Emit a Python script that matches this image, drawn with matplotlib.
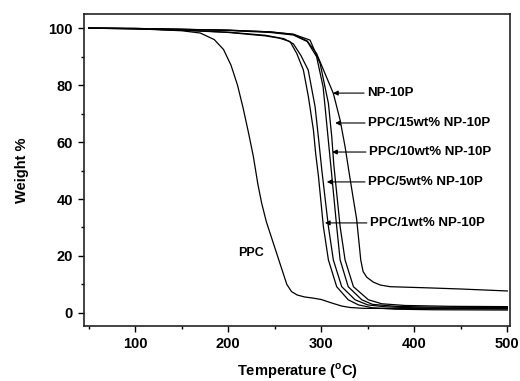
from __future__ import annotations

import matplotlib

matplotlib.use("Agg")
import matplotlib.pyplot as plt

PPC_T = [50, 100, 150, 170, 185, 195, 203, 210, 216, 222, 227, 232, 236, 241, 246, 252,
         258, 263, 268, 274, 282, 291, 300, 312, 322, 331, 345, 400, 500]
PPC_W = [100, 99.8, 99.1, 98.3, 96, 92.5, 87, 80, 72, 63, 55, 45, 38.5, 32, 27, 21,
         15, 10, 7.5, 6.3, 5.6, 5.2, 4.7, 3.4, 2.4, 1.9, 1.6, 1.5, 1.4]

WT1_T = [50, 100, 150, 200, 240, 255, 266.5, 273.7, 280.8, 286.2, 291.6, 294, 297, 302.3,
         307.7, 316.6, 329, 340, 355, 380, 420, 500]
WT1_W = [100, 99.8, 99.3, 98.5, 97.3, 96.5, 95.3, 91.1, 85.3, 75.9, 64.2, 56, 48, 30.3,
         18.6, 9.2, 4.6, 2.8, 1.8, 1.3, 1.1, 1.0]

WT5_T = [50, 100, 150, 200, 240, 260, 270, 278, 286, 293.4, 297.5, 300.6, 307.7, 313,
         322, 336.4, 350, 370, 400, 450, 500]
WT5_W = [100, 99.8, 99.3, 98.6, 97.5, 96.3, 94.5, 90.5, 85.3, 72.4, 60, 50.2, 30.3, 18.6,
         9.2, 4.6, 2.8, 2.1, 1.8, 1.6, 1.5]

WT10_T = [50, 100, 150, 200, 245, 270, 285, 295, 302, 305.5, 309, 312, 316.6, 320.3, 329,
          343.6, 355, 380, 420, 500]
WT10_W = [100, 99.9, 99.6, 99.2, 98.5, 97.6, 95.3, 90, 79.4, 67.7, 56, 46, 30.3, 18.6, 9.2,
          4.6, 3.0, 2.3, 2.0, 1.9]

WT15_T = [50, 100, 150, 200, 245, 270, 288, 298.8, 307.7, 311.3, 313.5, 316, 320.3, 325.6,
          334.6, 350.7, 365, 390, 440, 500]
WT15_W = [100, 99.9, 99.6, 99.3, 98.7, 97.9, 95.8, 87.6, 73.6, 61.9, 52, 44, 30.3, 18.6,
          9.2, 4.6, 3.2, 2.6, 2.3, 2.2]

NP_T = [50, 100, 150, 200, 245, 270, 285, 295, 304, 313, 320.3, 325.6, 329.5, 334, 338,
        340.5, 342.5, 345, 349, 356, 363.3, 374, 414, 449, 500]
NP_W = [100, 99.9, 99.6, 99.3, 98.7, 97.8, 95.5, 91.1, 84.1, 77.1, 67.7, 58.4, 50.2, 41, 33,
        25, 18.5, 14.5, 12.5, 10.8, 9.8, 9.2, 8.8, 8.4, 7.7]

# annotation labels: (text, arrow tip T, tip W, text T)
LABELS = [
    ("NP-10P", 312.7, 77.2, 349),
    ("PPC/15wt% NP-10P", 315, 66.7, 350),
    ("PPC/10wt% NP-10P", 311.7, 56.5, 351),
    ("PPC/5wt% NP-10P", 306, 46, 350),
    ("PPC/1wt% NP-10P", 304, 31.6, 352),
]


def main() -> int:
    plt.rcParams["font.family"] = ["Liberation Sans", "DejaVu Sans"]
    plt.rcParams["font.weight"] = "bold"
    plt.rcParams["mathtext.fontset"] = "custom"
    plt.rcParams["mathtext.rm"] = "Liberation Sans:bold"
    plt.rcParams["mathtext.bf"] = "Liberation Sans:bold"

    fig = plt.figure(figsize=(5.2, 3.81), dpi=100)
    ax = fig.add_axes([0.1615, 0.1444, 0.8195, 0.819])

    for t, w in [(PPC_T, PPC_W), (WT1_T, WT1_W), (WT5_T, WT5_W),
                 (WT10_T, WT10_W), (WT15_T, WT15_W), (NP_T, NP_W)]:
        ax.plot(t, w, color="black", linewidth=0.9)

    for text, tip_t, tip_w, text_t in LABELS:
        ax.annotate(
            text, xy=(tip_t, tip_w), xytext=(text_t, tip_w),
            ha="left", va="center", fontsize=9.5, fontweight="bold",
            arrowprops=dict(arrowstyle="-|>", mutation_scale=7, lw=0.8,
                            color="black", shrinkA=0, shrinkB=0),
        )
    ax.text(224, 21, "PPC", ha="center", va="center", fontsize=9, fontweight="bold")

    ax.set_xlim(45, 503)
    ax.set_ylim(-4.6, 105)
    ax.set_xticks([100, 200, 300, 400, 500])
    ax.set_xticks([50, 150, 250, 350, 450], minor=True)
    ax.set_yticks([0, 20, 40, 60, 80, 100])
    ax.set_yticks([10, 30, 50, 70, 90], minor=True)
    ax.tick_params(which="major", direction="out", length=4.5, width=1.0, labelsize=10.5)
    ax.tick_params(which="minor", direction="out", length=2.5, width=1.0)
    for label in ax.get_xticklabels() + ax.get_yticklabels():
        label.set_fontweight("bold")
    for spine in ax.spines.values():
        spine.set_linewidth(1.2)
        spine.set_color("#222222")

    ax.set_xlabel(r"Temperature ($^{\mathrm{o}}$C)", fontsize=10.5, fontweight="bold", labelpad=7)
    ax.set_ylabel("Weight %", fontsize=10.5, fontweight="bold", labelpad=14)

    fig.savefig("out.png", dpi=100)
    plt.close(fig)
    return 0


if __name__ == "__main__":
    raise SystemExit(main())
